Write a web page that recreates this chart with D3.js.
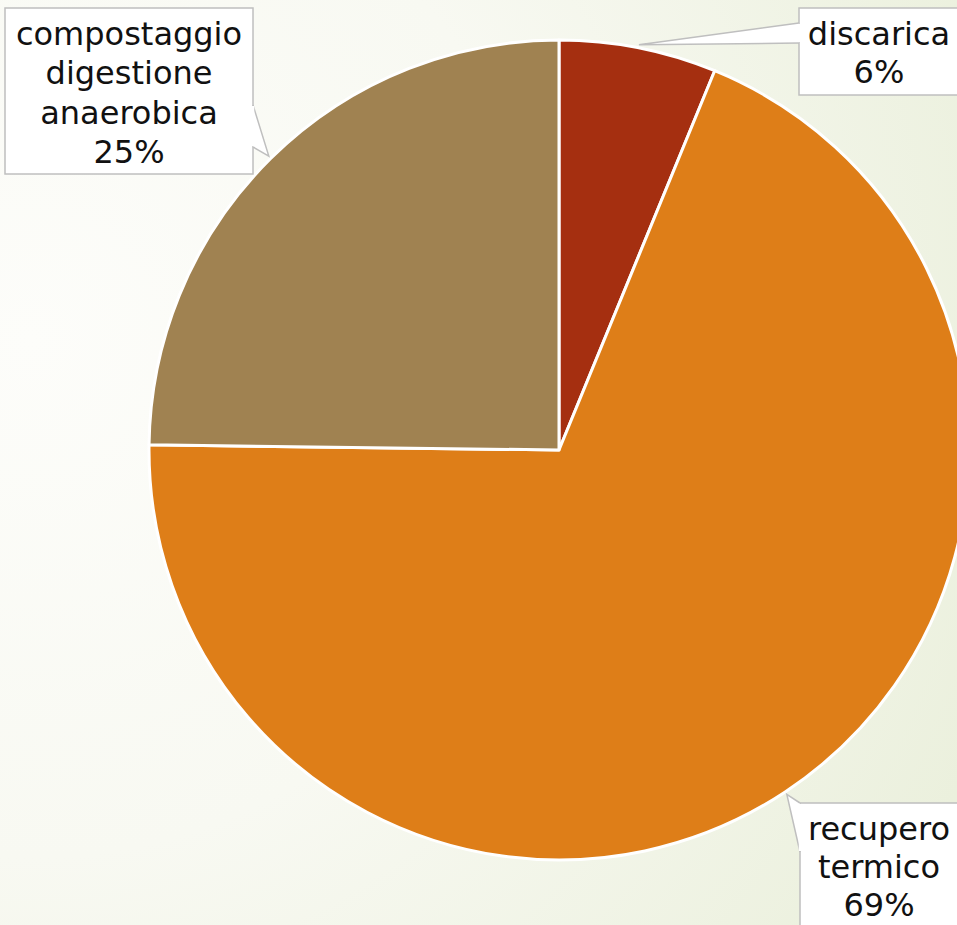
<!DOCTYPE html>
<html>
<head>
<meta charset="utf-8">
<script src="https://cdn.jsdelivr.net/npm/d3@7"></script>
<style>
  html, body { margin: 0; padding: 0; overflow: hidden; }
  svg { display: block; }
</style>
</head>
<body>
<svg id="chart" width="957" height="925"></svg>
<script>
// dati
var categories = ["discarica", "recupero termico", "compostaggio digestione anaerobica"];
var values = [6.2, 69.0, 24.8];
var colors = ["#A52F10", "#DE7E18", "#A08251"];
// righe delle etichette (nome spezzato come nel grafico)
var labelLines = [["discarica"], ["recupero", "termico"], ["compostaggio", "digestione", "anaerobica"]];

var W = 957, H = 925;
var cx = 559, cy = 450, R = 410;

var svg = d3.select("#chart");

// sfondo sfumato
var defs = svg.append("defs");
var grad = defs.append("radialGradient")
  .attr("id", "bg")
  .attr("gradientUnits", "userSpaceOnUse")
  .attr("cx", 30).attr("cy", 340).attr("r", 1150);
grad.append("stop").attr("offset", "0%").attr("stop-color", "#FDFDFA");
grad.append("stop").attr("offset", "45%").attr("stop-color", "#F8F9F2");
grad.append("stop").attr("offset", "100%").attr("stop-color", "#E8EED8");
svg.append("rect").attr("width", W).attr("height", H).attr("fill", "url(#bg)");

// torta
var total = d3.sum(values);
var pie = d3.pie().sort(null).value(function(d) { return d; });
var arc = d3.arc().innerRadius(0).outerRadius(R);
var arcs = pie(values);

var g = svg.append("g").attr("transform", "translate(" + cx + "," + cy + ")");
g.selectAll("path")
  .data(arcs)
  .enter()
  .append("path")
  .attr("d", arc)
  .attr("fill", function(d, i) { return colors[i]; })
  .attr("stroke", "#fff")
  .attr("stroke-width", 3)
  .attr("stroke-linejoin", "round");

// etichette a fumetto
// box: x, y, w, h ; base della punta sul lato del box; la punta va al centro della fetta
var callouts = [
  { box: [799, 8, 165, 87], base: [[799, 23], [799, 43]], tx: 879, ty: 45 },
  { box: [800, 803, 165, 140], base: [[800, 803], [800, 852]], tx: 879, ty: 840 },
  { box: [5, 8, 248, 166], base: [[253, 105], [253, 147]], tx: 129, ty: 45 }
];

var lab = svg.append("g").attr("class", "labels");
callouts.forEach(function(c, i) {
  var a = (arcs[i].startAngle + arcs[i].endAngle) / 2;
  var tip = [cx + (R + 3) * Math.sin(a), cy - (R + 3) * Math.cos(a)];
  lab.append("rect")
    .attr("x", c.box[0]).attr("y", c.box[1])
    .attr("width", c.box[2]).attr("height", c.box[3])
    .attr("fill", "#fff")
    .attr("stroke", "#BFBFBF")
    .attr("stroke-width", 1.5);
  // punta del fumetto
  lab.append("path")
    .attr("d", d3.line()([c.base[0], tip, c.base[1]]))
    .attr("fill", "#fff")
    .attr("stroke", "#BFBFBF")
    .attr("stroke-width", 1.5);
  // copre il bordo sotto la punta
  lab.append("line")
    .attr("x1", c.base[0][0]).attr("y1", c.base[0][1] + 1)
    .attr("x2", c.base[1][0]).attr("y2", c.base[1][1] - 1)
    .attr("stroke", "#fff").attr("stroke-width", 2.5);

  var pct = Math.round(values[i] / total * 100) + "%";
  var lines = labelLines[i].concat([pct]);
  var t = lab.append("text")
    .attr("text-anchor", "middle")
    .attr("font-family", "'DejaVu Sans', sans-serif")
    .attr("font-size", 32)
    .attr("fill", "#111");
  lines.forEach(function(s, k) {
    t.append("tspan")
      .attr("x", c.tx)
      .attr("y", c.ty + k * (i === 2 ? 39.3 : 38))
      .text(s);
  });
});
</script>
</body>
</html>
